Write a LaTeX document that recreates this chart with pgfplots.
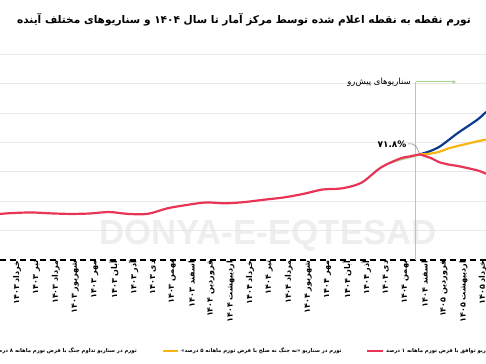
\documentclass[border=0pt]{standalone}
\usepackage{pgfplots}
\pgfplotsset{compat=1.18}
\usetikzlibrary{arrows.meta}
\usepackage{fontspec}
\setmainfont{DejaVu Sans}
\newfontfamily\arabicfont[Script=Arabic]{DejaVu Sans}
\newfontfamily\wmfont{Liberation Sans}
\TeXXeTstate=1
\definecolor{cred}{RGB}{233,52,88}
\definecolor{cblue}{RGB}{12,58,145}
\definecolor{corange}{RGB}{250,180,20}
\definecolor{cgreen}{RGB}{168,214,138}
\definecolor{wm}{RGB}{238,238,238}
\pgfplotstableread{
x y
-0.62 31.3
0 31.9
1 32.3
2 31.7
3 31.3
4 31.6
5 32.6
6 31.3
7 31.4
8 35.1
9 37.4
10 39.1
11 38.5
12 39.4
13 41.0
14 42.5
15 44.9
16 47.9
17 48.7
18 52.5
19 62.8
20 69.0
20.5 70.4
21 71.8
}\histdata
\pgfplotstableread{
x y
21 71.8
21.6 69.2
22 66.5
22.6 64.6
23 63.8
24 60.8
24.42 58.6
}\reddata
\pgfplotstableread{
x y
21 71.8
21.5 73.8
22 76.8
22.5 81.6
23 86.6
24 95.6
24.42 100.7
}\bluedata
\pgfplotstableread{
x y
21 71.8
21.5 72.2
22 73.5
22.5 75.9
23 77.6
24 80.7
24.42 81.8
}\orangedata
\pgfplotstableread{
x y
19.5 66.0
20 68.2
20.5 69.8
21 71.6
}\greendata
\begin{document}
\begin{tikzpicture}
\path[use as bounding box] (0,0) rectangle (486bp,364bp);
\clip (0,0) rectangle (486bp,364bp);
% watermark
\node[font=\wmfont\bfseries\fontsize{35}{38}\selectfont, text=wm, anchor=center] at (268bp,128bp) {DONYA-E-EQTESAD};
% title
\node[font=\arabicfont\bfseries\fontsize{10.6}{13}\selectfont, anchor=center] at (244bp,344bp) {\beginR تورم نقطه به نقطه اعلام شده توسط مرکز آمار تا سال ۱۴۰۴ و سناریوهای مختلف آینده\endR};
\begin{axis}[
  at={(0bp,104bp)}, anchor=south west,
  width=486bp, height=206bp, scale only axis,
  xmin=-0.62, xmax=24.42, ymin=0, ymax=140,
  axis x line*=bottom, axis y line*=left,
  x axis line style={black, line width=1.2pt, dash pattern=on 6bp off 4bp, -},
  y axis line style={draw=none},
  tick style={draw=none},
  ytick={20,40,60,80,100,120,140}, yticklabels={},
  ymajorgrids, major grid style={gray!18, line width=0.6pt},
  xtick={0,...,24},
  xticklabels={\beginR خرداد ۱۴۰۳\endR,\beginR تیر ۱۴۰۳\endR,\beginR مرداد ۱۴۰۳\endR,\beginR شهریور ۱۴۰۳\endR,\beginR مهر ۱۴۰۳\endR,\beginR آبان ۱۴۰۳\endR,\beginR آذر ۱۴۰۳\endR,\beginR دی ۱۴۰۳\endR,\beginR بهمن ۱۴۰۳\endR,\beginR اسفند ۱۴۰۳\endR,\beginR فروردین ۱۴۰۴\endR,\beginR اردیبهشت ۱۴۰۴\endR,\beginR خرداد ۱۴۰۴\endR,\beginR تیر ۱۴۰۴\endR,\beginR مرداد ۱۴۰۴\endR,\beginR شهریور ۱۴۰۴\endR,\beginR مهر ۱۴۰۴\endR,\beginR آبان ۱۴۰۴\endR,\beginR آذر ۱۴۰۴\endR,\beginR دی ۱۴۰۴\endR,\beginR بهمن ۱۴۰۴\endR,\beginR اسفند ۱۴۰۴\endR,\beginR فروردین ۱۴۰۵\endR,\beginR اردیبهشت ۱۴۰۵\endR,\beginR خرداد ۱۴۰۵\endR},
  xticklabel style={rotate=90, anchor=east, font=\arabicfont\bfseries\fontsize{8}{9}\selectfont, inner sep=0.5pt, yshift=-5bp},
  clip=true,
]
\draw[cgreen, line width=1pt] (axis cs:20.8,0) -- (axis cs:20.8,121);
\draw[cgreen, line width=1pt, -{Latex[length=4bp,width=4bp]}] (axis cs:20.8,121) -- (axis cs:22.9,121);
\addplot[cgreen, line width=2pt, smooth] table[x=x,y=y] {\greendata};
\addplot[cred, line width=2.2pt, smooth] table[x=x,y=y] {\histdata};
\addplot[cblue, line width=2.2pt, smooth] table[x=x,y=y] {\bluedata};
\addplot[corange, line width=2.2pt, smooth] table[x=x,y=y] {\orangedata};
\addplot[cred, line width=2.2pt, smooth] table[x=x,y=y] {\reddata};
\draw[gray, line width=0.5pt] (axis cs:20.4,79) -- (axis cs:20.6,79) .. controls (axis cs:20.8,78) .. (axis cs:21,72.3);
\node[anchor=east, font=\arabicfont\bfseries\fontsize{9}{10}\selectfont, inner sep=1pt] at (axis cs:20.38,79) {۷۱.۸\%};
\node[anchor=east, font=\arabicfont\fontsize{8.5}{10}\selectfont, inner sep=1pt] at (axis cs:20.6,121) {\beginR سناریوهای پیش‌رو\endR};
\end{axis}
% legend
\draw[cred, line width=2.2pt] (367bp,13bp) -- (383bp,13bp);
\node[anchor=west, font=\arabicfont\bfseries\fontsize{5.3}{7}\selectfont, inner sep=0pt] at (386bp,13bp) {\beginR تورم در سناریو توافق با فرض تورم ماهانه ۱ درصد\endR};
\draw[corange, line width=2.2pt] (163bp,13bp) -- (178bp,13bp);
\node[anchor=west, font=\arabicfont\bfseries\fontsize{5.3}{7}\selectfont, inner sep=0pt] at (181bp,13bp) {\beginR تورم در سناریو «نه جنگ نه صلح با فرض تورم ماهانه ۵ درصد»\endR};
\node[anchor=east, font=\arabicfont\bfseries\fontsize{5.3}{7}\selectfont, inner sep=0pt] at (137bp,13bp) {\beginR تورم در سناریو تداوم جنگ با فرض تورم ماهانه ۸ درصد\endR};
\end{tikzpicture}
\end{document}
